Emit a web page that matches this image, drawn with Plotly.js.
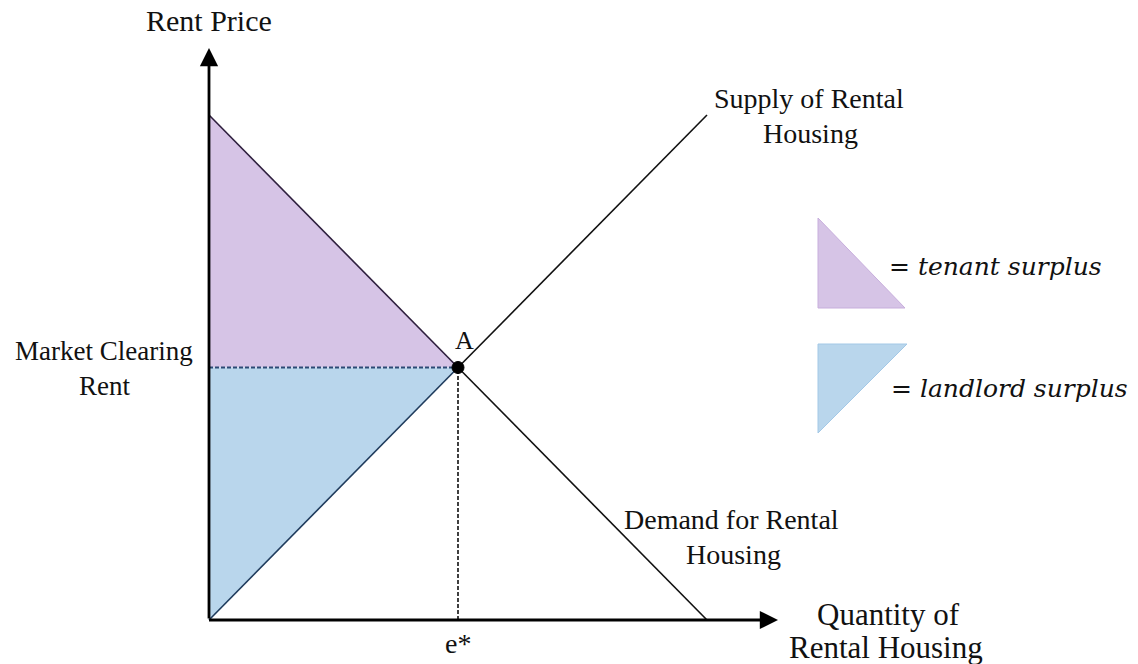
<!DOCTYPE html>
<html>
<head>
<meta charset="utf-8">
<script src="https://cdn.plot.ly/plotly-3.0.1.min.js"></script>
<style>html,body{margin:0;padding:0;background:#fff;}#chart{width:1138px;height:664px;}</style>
</head>
<body>
<div id="chart"></div>
<script>
// ---- data ----
const quantity = [0, 5, 10];
const demandPrice = [10, 5, 0];
const supplyPrice = [0, 5, 10];
const eqQuantity = 5;
const eqPrice = 5;
const eqLabel = "A";
const xAxisLabel = ["Quantity of", "Rental Housing"];
const yAxisLabel = "Rent Price";
const supplyLabel = ["Supply of Rental", "Housing"];
const demandLabel = ["Demand for Rental", "Housing"];
const priceLabel = ["Market Clearing", "Rent"];
const qtyLabel = "e*";
const legendLabels = ["= tenant surplus", "= landlord surplus"];

// ---- layout helpers (pixel -> paper) ----
const W = 1138, H = 664;
const X = p => p / W;
const Y = p => 1 - p / H;

const purple = "#d6c4e6";
const blue = "#b9d6ec";
const serif = "Liberation Serif, Times New Roman, serif";

const traces = [
  { x: [0, 0, eqQuantity], y: [demandPrice[0], eqPrice, eqPrice], fill: "toself", fillcolor: purple,
    mode: "lines", line: { width: 0 }, hoverinfo: "skip" },
  { x: [0, 0, eqQuantity], y: [supplyPrice[0], eqPrice, eqPrice], fill: "toself", fillcolor: blue,
    mode: "lines", line: { width: 0 }, hoverinfo: "skip" },
  { x: quantity.slice(0, 2), y: demandPrice.slice(0, 2), mode: "lines", line: { color: "#2e1f3e", width: 1.6 } },
  { x: quantity.slice(1), y: demandPrice.slice(1), mode: "lines", line: { color: "#111", width: 1.6 } },
  { x: quantity.slice(0, 2), y: supplyPrice.slice(0, 2), mode: "lines", line: { color: "#1f3b5c", width: 1.6 } },
  { x: quantity.slice(1), y: supplyPrice.slice(1), mode: "lines", line: { color: "#111", width: 1.6 } },
  { x: [0, eqQuantity], y: [eqPrice, eqPrice], mode: "lines", line: { color: "#2c4a75", width: 1.8, dash: "4px,2px" } },
  { x: [eqQuantity, eqQuantity], y: [0, eqPrice], mode: "lines", line: { color: "#111", width: 1.6, dash: "4px,2px" } },
  { x: [eqQuantity], y: [eqPrice], mode: "markers", marker: { color: "#000", size: 12, line: { color: "#000", width: 1 } } }
];

const ann = [];
function txt(t, px, py, size, opts) {
  ann.push(Object.assign({
    text: t, xref: "paper", yref: "paper", x: X(px), y: Y(py), showarrow: false,
    xanchor: "center", yanchor: "middle", font: { family: serif, size: size, color: "#111" }
  }, opts || {}));
}
txt(yAxisLabel, 208.5, 20, 30);
txt(supplyLabel[0], 809.5, 98.5, 28);
txt(supplyLabel[1], 810, 133.5, 28);
txt(demandLabel[0], 731.5, 519.5, 28);
txt(demandLabel[1], 733, 554.5, 28);
txt(priceLabel[0], 103.5, 351, 27);
txt(priceLabel[1], 104, 386, 27);
txt(qtyLabel, 458, 643.5, 28);
txt(eqLabel, 464, 340, 26);
txt(xAxisLabel[0], 888.5, 614, 31);
txt(xAxisLabel[1], 886, 647, 31);
txt(legendLabels[0], 887, 266, 25, { xanchor: "left", font: { family: "DejaVu Serif, serif", size: 25, color: "#111", style: "italic" } });
txt(legendLabels[1], 889, 388, 25, { xanchor: "left", font: { family: "DejaVu Serif, serif", size: 25, color: "#111", style: "italic" } });

// axis arrows (data coordinates)
const xMax = (778 - 209) / 49.8;
const yMax = (620 - 48) / 50.5;
ann.push({ x: 0, y: yMax, ax: 0, ay: 0, xref: "x", yref: "y", axref: "x", ayref: "y", text: "", showarrow: true,
  arrowhead: 2, arrowsize: 1.3, arrowwidth: 2.8, arrowcolor: "#000", standoff: 0, startstandoff: 0 });
ann.push({ x: xMax, y: 0, ax: -0.03, ay: 0, xref: "x", yref: "y", axref: "x", ayref: "y", text: "", showarrow: true,
  arrowhead: 2, arrowsize: 1.3, arrowwidth: 2.8, arrowcolor: "#000", standoff: 0, startstandoff: 0 });

const shapes = [
  { type: "path", xref: "paper", yref: "paper",
    path: `M ${X(818)},${Y(218)} L ${X(818)},${Y(308)} L ${X(905)},${Y(308)} Z`,
    fillcolor: purple, line: { color: "#c7aedc", width: 1 } },
  { type: "path", xref: "paper", yref: "paper",
    path: `M ${X(818)},${Y(344)} L ${X(907)},${Y(344)} L ${X(818)},${Y(433)} Z`,
    fillcolor: blue, line: { color: "#a3c8e6", width: 1 } }
];

const layout = {
  width: W, height: H, margin: { l: 0, r: 0, t: 0, b: 0 },
  paper_bgcolor: "#fff", plot_bgcolor: "#fff", showlegend: false,
  xaxis: { range: [-209 / 49.8, (W - 209) / 49.8], visible: false, fixedrange: true },
  yaxis: { range: [(620 - H) / 50.5, 620 / 50.5], visible: false, fixedrange: true },
  annotations: ann, shapes: shapes
};

Plotly.newPlot("chart", traces, layout, { staticPlot: true, displayModeBar: false });
</script>
</body>
</html>
